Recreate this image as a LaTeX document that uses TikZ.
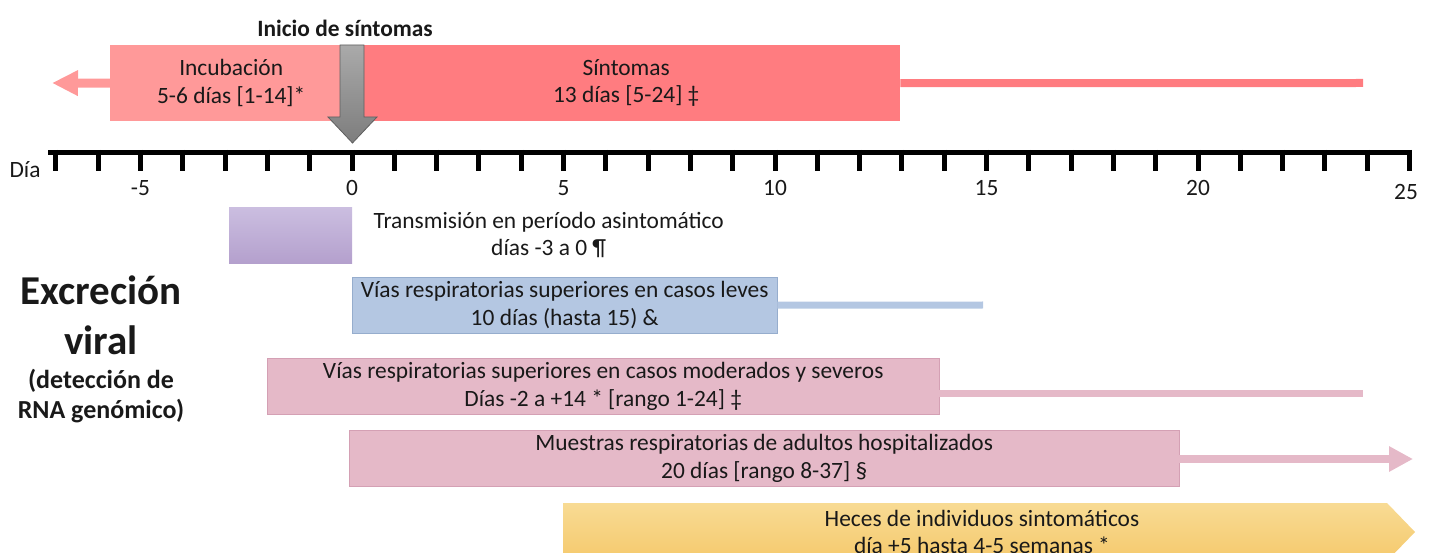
\documentclass[tikz,border=0pt]{standalone}
\usepackage{fontspec}
\setmainfont{Carlito}
\usetikzlibrary{arrows.meta, positioning}
\definecolor{incC}    {RGB}{255,153,153}
\definecolor{sintC}   {RGB}{255,124,128}
\definecolor{flechaT} {RGB}{170,170,170}
\definecolor{flechaB} {RGB}{125,125,125}
\definecolor{flechaE} {RGB}{ 95, 95, 95}
\definecolor{asintT}  {RGB}{203,190,224}
\definecolor{asintB}  {RGB}{180,160,205}
\definecolor{leveC}   {RGB}{180,199,226}
\definecolor{leveE}   {RGB}{150,173,205}
\definecolor{graveC}  {RGB}{229,185,200}
\definecolor{graveE}  {RGB}{212,160,180}
\definecolor{hecesT}  {RGB}{248,219,148}
\definecolor{hecesB}  {RGB}{245,201,108}

\begin{document}
\begin{tikzpicture}[x=1pt, y=-1pt,
  txt/.style={font=\fontsize{23.4}{27.5}\selectfont, align=center,
              text=black!90, inner sep=0pt},
  negrita/.style={txt, font=\fontsize{23.4}{27.5}\selectfont\bfseries},
  bar/.style={txt, rectangle, anchor=north west, minimum height=56pt},
  marca/.style={line width=5pt},
  num/.style={txt}]

\useasboundingbox (0,0) rectangle (1430,553);

% ============================================================
% Incubation / symptoms band
% ============================================================
\node[bar, fill=incC, minimum width=242pt, minimum height=76pt]
  (incub) at (110,45) {Incubación\\5-6 días [1-14]*};
\node[bar, fill=sintC, minimum width=548pt, minimum height=76pt]
  (sint) at (352,45) {Síntomas\\13 días [5-24] ‡};

\coordinate (incTip)  at (52,83);
\coordinate (sintEnd) at (1363,83);
\draw[incC, line width=9pt, -{Triangle[length=26pt, width=24pt]}]
  (incub.west) -- (incTip);
\draw[sintC, line width=8pt] (sint.east) -- (sintEnd);

% Onset arrow
\shade[top color=flechaT, bottom color=flechaB, draw=flechaE, line width=0.8pt]
  (340,45) -- (364,45) -- (364,117) -- (377,117) -- (352.5,143)
  -- (328,117) -- (340,117) -- cycle;
\node[negrita] (inicio) at (345,28) {Inicio de síntomas};

% ============================================================
% Day axis
% ============================================================
\draw[line width=5pt] (48,152.5) -- (1411,152.5);
\foreach \d in {-7,...,25}{
  \draw[marca] ({352+42.3*\d},150) -- ({352+42.3*\d},171);
}
\foreach \d in {-5,0,5,10,15,20}{
  \node[num] at ({352+42.3*\d},188) {\d};
}
\node[num] at (1406,192) {25};
\node[num] (dia) at (25,170) {Día};

% ============================================================
% Viral shedding bars
% ============================================================
\node[bar, top color=asintT, bottom color=asintB, minimum width=123pt]
  (asint) at (229,207) {};
\node[txt, right=21pt of asint] (asintTxt)
  {Transmisión en período asintomático\\días -3 a 0 ¶};

\node[bar, fill=leveC, draw=leveE, minimum width=425pt]
  (leve) at (352,277) {Vías respiratorias superiores en casos leves\\10 días (hasta 15) \&};
\coordinate (leveEnd) at (983,305);
\draw[leveC, line width=7pt] (leve.east) -- (leveEnd);

\node[bar, fill=graveC, draw=graveE, minimum width=672pt]
  (grave) at (267,358) {Vías respiratorias superiores en casos moderados y severos\\Días -2 a +14 * [rango 1-24] ‡};
\coordinate (graveEnd) at (1363,393.5);
\draw[graveC, line width=7pt] (graveEnd -| grave.east) -- (graveEnd);

\node[bar, fill=graveC, draw=graveE, minimum width=830pt]
  (hosp) at (349,430) {Muestras respiratorias de adultos hospitalizados\\20 días [rango 8-37] §};
\coordinate (hospTip) at (1413,459);
\draw[graveC, line width=8pt, -{Triangle[length=24pt, width=24pt]}]
  (hospTip -| hosp.east) -- (hospTip);

% Faeces (chevron running off the bottom)
\shade[top color=hecesT, bottom color=hecesB]
  (563,503) -- (1387,503) -- (1415,532) -- (1387,561) -- (563,561) -- cycle;
\node[txt] (heces) at (982,532)
  {Heces de individuos sintomáticos\\día +5 hasta 4-5 semanas *};

% Side label
\node[txt, font=\fontsize{41}{50}\selectfont\bfseries] (excr) at (101,315)
  {Excreción\\viral};
\node[txt, font=\fontsize{26}{30}\selectfont\bfseries] (detec) at (101,396)
  {(detección de\\RNA genómico)};

\end{tikzpicture}
\end{document}
